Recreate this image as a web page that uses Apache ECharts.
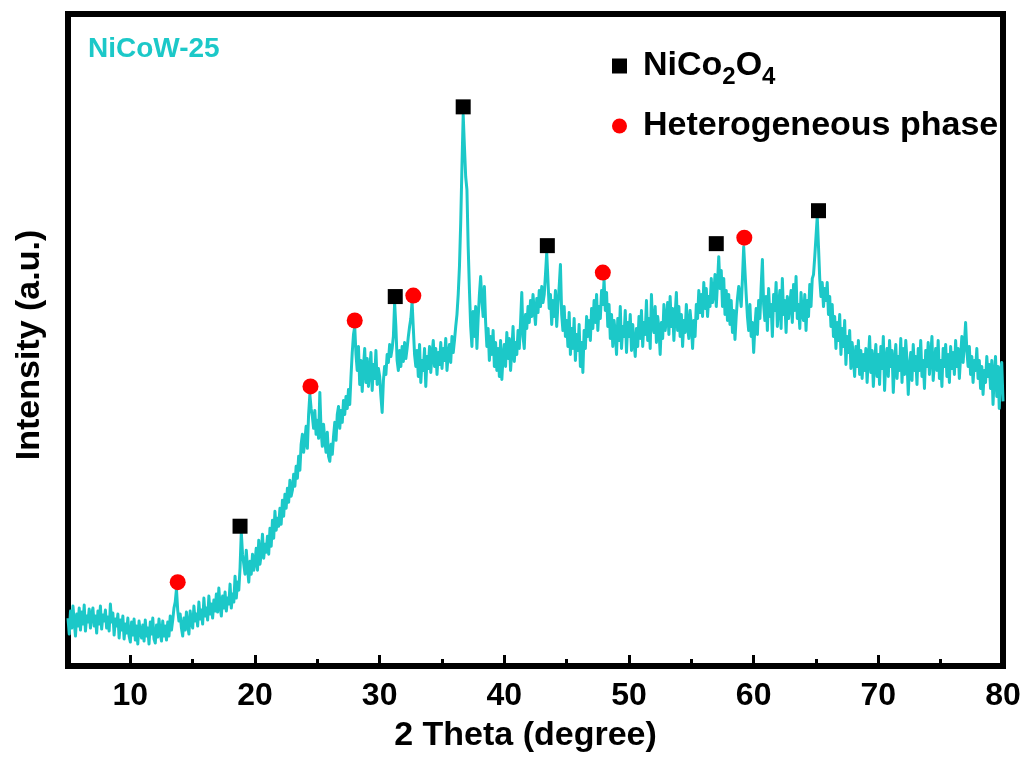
<!DOCTYPE html>
<html>
<head>
<meta charset="utf-8">
<title>NiCoW-25 XRD</title>
<script src="https://cdn.jsdelivr.net/npm/echarts@6/dist/echarts.min.js"></script>
<style>
  html, body { margin: 0; padding: 0; background: #ffffff; }
  #chart { width: 1025px; height: 758px; }
</style>
</head>
<body>
<div id="chart"></div>
<script>
// XRD pattern of NiCoW-25, one row per degree, sampled every 0.1 degree (2 theta 5 -> 80)
const twoThetaStart = 5;
const twoThetaStep = 0.1;
const intensity = [
  48, 32, 55, 38, 60, 44, 30, 52, 40, 58,     // 5
  36, 54, 42, 61, 35, 50, 44, 57, 38, 52,     // 6
  58, 40, 50, 33, 55, 42, 60, 37, 51, 45,     // 7
  56, 38, 49, 35, 62, 44, 53, 31, 47, 40,     // 8
  52, 28, 46, 36, 50, 27, 42, 33, 48, 30,     // 9
  24, 44, 31, 47, 26, 40, 22, 45, 34, 28,     // 10
  41, 25, 46, 30, 38, 22, 44, 32, 48, 27,     // 11
  23, 41, 29, 47, 33, 25, 45, 30, 40, 26,     // 12
  44, 30, 50, 36, 46, 58, 64, 77, 56, 45,     // 13
  52, 38, 30, 48, 36, 54, 41, 32, 55, 44,     // 14
  38, 60, 45, 52, 40, 64, 47, 56, 42, 68,     // 15
  50, 58, 46, 70, 52, 62, 48, 66, 55, 72,     // 16
  54, 78, 60, 50, 70, 58, 74, 55, 68, 62,     // 17
  82, 58, 72, 64, 90, 68, 84, 76, 98, 134,    // 18
  112, 102, 92, 116, 98, 84, 105, 92, 112, 96,    // 19
  104, 118, 96, 126, 102, 112, 132, 108, 122, 114,  // 20
  130, 112, 138, 120, 146, 128, 155, 136, 148, 140, // 21
  158, 142, 166, 150, 172, 158, 178, 164, 186, 170, // 22
  176, 192, 180, 200, 188, 210, 196, 222, 232, 214, // 23
  226, 240, 218, 252, 272, 258, 250, 238, 256, 232, // 24
  246, 228, 274, 236, 220, 242, 226, 214, 234, 210, // 25
  205, 222, 212, 230, 244, 226, 252, 260, 238, 256, // 26
  244, 266, 252, 270, 258, 277, 262, 290, 314, 332, // 27
  340, 312, 296, 320, 282, 306, 275, 300, 318, 284, // 28
  308, 280, 296, 314, 276, 302, 288, 316, 282, 298, // 29
  290, 270, 254, 286, 300, 292, 312, 304, 322, 310, // 30
  318, 330, 364, 340, 306, 296, 316, 300, 320, 305, // 31
  324, 308, 318, 330, 340, 348, 365, 338, 312, 300, // 32
  316, 290, 322, 284, 306, 296, 318, 280, 310, 298, // 33
  320, 294, 312, 326, 300, 318, 292, 314, 302, 324, // 34
  298, 318, 306, 328, 296, 312, 322, 304, 330, 314, // 35
  326, 340, 352, 372, 400, 444, 500, 552, 520, 490, // 36
  477, 420, 377, 340, 320, 355, 330, 360, 318, 348, // 37
  372, 390, 366, 350, 380, 344, 320, 338, 306, 330, // 38
  312, 336, 300, 324, 296, 318, 290, 326, 287, 310, // 39
  322, 300, 334, 308, 328, 296, 316, 340, 305, 324, // 40
  312, 336, 318, 344, 374, 330, 318, 352, 338, 360, // 41
  344, 366, 350, 372, 356, 342, 368, 354, 376, 360, // 42
  380, 364, 372, 392, 414, 386, 358, 372, 342, 366, // 43
  350, 376, 340, 362, 380, 402, 352, 336, 360, 330, // 44
  346, 320, 354, 312, 338, 318, 348, 306, 332, 316, // 45
  342, 300, 324, 294, 336, 318, 350, 330, 346, 326, // 46
  358, 338, 366, 344, 372, 336, 360, 348, 376, 362, // 47
  387, 356, 374, 340, 362, 328, 352, 320, 346, 334, // 48
  312, 348, 326, 360, 318, 340, 330, 356, 314, 344, // 49
  330, 352, 316, 342, 324, 310, 338, 320, 350, 328, // 50
  356, 320, 344, 332, 366, 326, 348, 318, 372, 340, // 51
  334, 360, 324, 350, 338, 312, 344, 328, 362, 336, // 52
  346, 364, 332, 370, 340, 358, 326, 352, 374, 336, // 53
  360, 330, 352, 320, 346, 334, 362, 340, 328, 356, // 54
  342, 318, 346, 330, 362, 348, 376, 354, 372, 350, // 55
  384, 358, 378, 350, 370, 360, 388, 364, 372, 392, // 56
  360, 384, 410, 378, 396, 360, 388, 352, 376, 346, // 57
  372, 342, 366, 334, 356, 327, 350, 368, 380, 372, // 58
  360, 388, 420, 396, 372, 350, 336, 362, 330, 344, // 59
  314, 340, 358, 332, 366, 348, 380, 407, 362, 346, // 60
  370, 336, 378, 350, 362, 330, 372, 356, 384, 340, // 61
  360, 376, 338, 388, 352, 366, 334, 370, 348, 362, // 62
  376, 344, 382, 356, 390, 348, 362, 338, 374, 352, // 63
  346, 372, 336, 366, 350, 382, 360, 388, 392, 410, // 64
  430, 450, 420, 388, 370, 384, 360, 378, 366, 384, // 65
  352, 370, 340, 362, 330, 350, 318, 344, 326, 352, // 66
  312, 338, 320, 346, 302, 330, 314, 336, 298, 324, // 67
  308, 290, 320, 300, 326, 292, 316, 288, 312, 296, // 68
  318, 284, 308, 330, 294, 316, 280, 304, 322, 290, // 69
  312, 282, 320, 298, 330, 276, 306, 318, 290, 326, // 70
  300, 316, 274, 304, 322, 288, 310, 296, 328, 284, // 71
  318, 292, 326, 306, 272, 300, 314, 286, 322, 296, // 72
  310, 282, 318, 296, 326, 290, 306, 278, 316, 300, // 73
  324, 292, 310, 330, 286, 304, 318, 296, 326, 288, // 74
  306, 280, 318, 300, 322, 290, 312, 284, 320, 298, // 75
  314, 292, 326, 300, 318, 288, 310, 330, 304, 322, // 76
  344, 316, 300, 320, 292, 310, 284, 306, 296, 318, // 77
  288, 306, 278, 300, 272, 296, 284, 310, 290, 302, // 78
  278, 306, 262, 292, 310, 270, 300, 258, 296, 304, // 79
  265                                              // 80
];

// Axis ticks
const xMin = 5;
const xMax = 80;
const xTicks = [10, 20, 30, 40, 50, 60, 70, 80];
const xMinorTicks = [5, 15, 25, 35, 45, 55, 65, 75];

// Phase markers placed above the indexed reflections
const nicoPeakTheta = [18.8, 31.25, 36.7, 43.45, 57.0, 65.2];
const nicoPeakLevel = [140, 370, 560, 421, 423, 456];
const hetPeakTheta = [13.8, 24.45, 28.0, 32.7, 47.9, 59.25];
const hetPeakLevel = [84, 280, 346, 371, 394, 429];

const sampleName = 'NiCoW-25';
const nicoName = 'NiCo2O4';
const hetName = 'Heterogeneous phase';

const FONT = '"Liberation Sans", Arial, Helvetica, sans-serif';
const CURVE_COLOR = '#1CC8C8';

const curve = intensity.map((v, i) => [+(twoThetaStart + i * twoThetaStep).toFixed(2), v]);
const nicoMarks = nicoPeakTheta.map((t, i) => [t, nicoPeakLevel[i]]);
const hetMarks = hetPeakTheta.map((t, i) => [t, hetPeakLevel[i]]);

const chart = echarts.init(document.getElementById('chart'), null, { renderer: 'canvas' });

chart.setOption({
  animation: false,
  backgroundColor: '#ffffff',
  title: {
    text: sampleName,
    left: 88,
    top: 35,
    padding: 0,
    textStyle: { color: CURVE_COLOR, fontSize: 28, fontWeight: 'bold', fontFamily: FONT }
  },
  legend: {
    orient: 'vertical',
    left: 612,
    top: 49,
    padding: 0,
    itemWidth: 15,
    itemHeight: 15,
    itemGap: 20,
    data: [
      { name: nicoName, icon: 'rect', itemStyle: { color: '#000000', opacity: 1 } },
      { name: hetName, icon: 'circle', itemStyle: { color: '#FF0000', opacity: 1 } }
    ],
    formatter: function (name) {
      if (name === nicoName) {
        return '{f|NiCo}{s|2}{m|O}{s|4}';
      }
      return '{f|' + name + '}';
    },
    textStyle: {
      color: '#000000',
      fontFamily: FONT,
      rich: {
        f: { fontSize: 34, fontWeight: 'bold', fontFamily: FONT, color: '#000', lineHeight: 46, padding: [0, 0, 0, 11] },
        m: { fontSize: 34, fontWeight: 'bold', fontFamily: FONT, color: '#000', lineHeight: 46 },
        s: { fontSize: 24, fontWeight: 'bold', fontFamily: FONT, color: '#000', lineHeight: 24, verticalAlign: 'bottom' }
      }
    }
  },
  grid: {
    left: 68,
    right: 22,
    top: 14,
    bottom: 91,
    show: true,
    borderColor: '#000000',
    borderWidth: 6,
    backgroundColor: 'transparent',
    containLabel: false
  },
  xAxis: [
    {
      type: 'value',
      min: xMin,
      max: xMax,
      position: 'bottom',
      axisLine: { show: false },
      splitLine: { show: false },
      axisTick: {
        show: true,
        inside: true,
        length: 11,
        customValues: xTicks,
        lineStyle: { color: '#000', width: 3 }
      },
      axisLabel: {
        show: true,
        customValues: xTicks,
        margin: 14,
        color: '#000',
        fontSize: 32,
        fontWeight: 'bold',
        fontFamily: FONT
      },
      name: '2 Theta (degree)',
      nameLocation: 'middle',
      nameGap: 53,
      nameTextStyle: {
        color: '#000', fontSize: 34, fontWeight: 'bold', fontFamily: FONT,
        padding: [0, 20, 0, 0]
      }
    },
    {
      type: 'value',
      min: xMin,
      max: xMax,
      position: 'bottom',
      axisLine: { show: false },
      splitLine: { show: false },
      axisLabel: { show: false },
      axisTick: {
        show: true,
        inside: true,
        length: 7,
        customValues: xMinorTicks,
        lineStyle: { color: '#000', width: 3 }
      }
    }
  ],
  yAxis: {
    type: 'value',
    min: 0,
    max: 653,
    axisLine: { show: false },
    axisTick: { show: false },
    axisLabel: { show: false },
    splitLine: { show: false },
    name: 'Intensity (a.u.)',
    nameLocation: 'middle',
    nameGap: 21,
    nameTextStyle: {
      color: '#000', fontSize: 34, fontWeight: 'bold', fontFamily: FONT,
      padding: [0, 10, 0, 0]
    }
  },
  series: [
    {
      name: sampleName,
      type: 'line',
      xAxisIndex: 0,
      data: curve,
      showSymbol: false,
      symbol: 'none',
      sampling: null,
      lineStyle: { color: CURVE_COLOR, width: 3, join: 'round' },
      itemStyle: { color: CURVE_COLOR },
      z: 2
    },
    {
      name: nicoName,
      type: 'scatter',
      xAxisIndex: 0,
      data: nicoMarks,
      symbol: 'rect',
      symbolSize: 15,
      itemStyle: { color: '#000000', opacity: 1 },
      z: 3
    },
    {
      name: hetName,
      type: 'scatter',
      xAxisIndex: 0,
      data: hetMarks,
      symbol: 'circle',
      symbolSize: 16,
      itemStyle: { color: '#FF0000', opacity: 1 },
      z: 3
    }
  ]
});
</script>
</body>
</html>
